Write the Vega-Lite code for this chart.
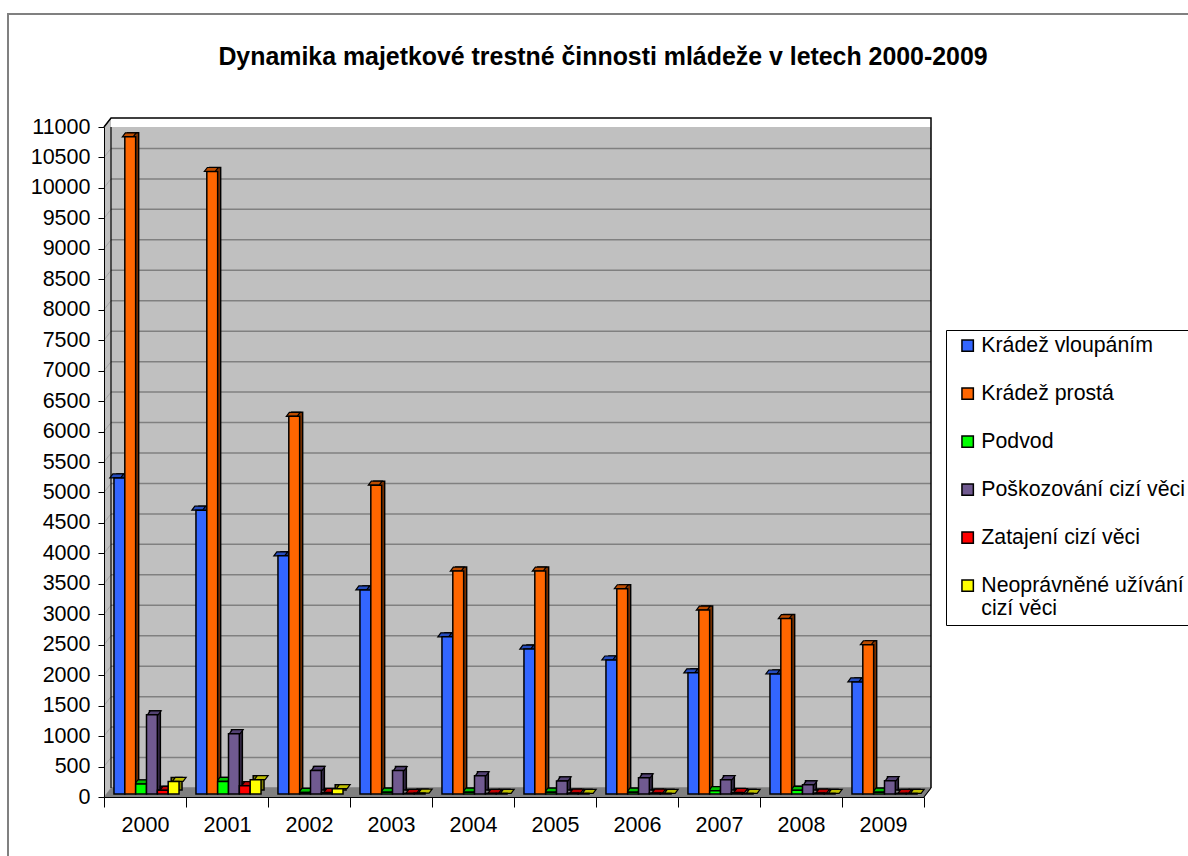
{
"$schema":"https://vega.github.io/schema/vega-lite/v6.json",
"width":1190,"height":850,
"autosize":{"type":"none"},
"padding":{"left":8,"top":14,"right":0,"bottom":0},
"background":"white",
"config":{"view":{"stroke":"#808080","strokeWidth":2,"fill":"white"},"font":"Liberation Sans"},
"title":{"text":"Dynamika majetkové trestné činnosti mládeže v letech 2000-2009","font":"Liberation Sans","fontSize":24.9,"fontWeight":"bold","color":"black","anchor":"middle","frame":"group","offset":-56},
"datasets":{
"crimes":[
{"rok":"2000","druh":"Krádež vloupáním","pocet":5190},{"rok":"2000","druh":"Krádež prostá","pocet":10790},{"rok":"2000","druh":"Podvod","pocet":164},{"rok":"2000","druh":"Poškozování cizí věci","pocet":1300},{"rok":"2000","druh":"Zatajení cizí věci","pocet":60},{"rok":"2000","druh":"Neoprávněné užívání cizí věci","pocet":207},
{"rok":"2001","druh":"Krádež vloupáním","pocet":4660},{"rok":"2001","druh":"Krádež prostá","pocet":10220},{"rok":"2001","druh":"Podvod","pocet":207},{"rok":"2001","druh":"Poškozování cizí věci","pocet":990},{"rok":"2001","druh":"Zatajení cizí věci","pocet":136},{"rok":"2001","druh":"Neoprávněné užívání cizí věci","pocet":235},
{"rok":"2002","druh":"Krádež vloupáním","pocet":3910},{"rok":"2002","druh":"Krádež prostá","pocet":6200},{"rok":"2002","druh":"Podvod","pocet":26},{"rok":"2002","druh":"Poškozování cizí věci","pocet":387},{"rok":"2002","druh":"Zatajení cizí věci","pocet":25},{"rok":"2002","druh":"Neoprávněné užívání cizí věci","pocet":87},
{"rok":"2003","druh":"Krádež vloupáním","pocet":3350},{"rok":"2003","druh":"Krádež prostá","pocet":5070},{"rok":"2003","druh":"Podvod","pocet":30},{"rok":"2003","druh":"Poškozování cizí věci","pocet":385},{"rok":"2003","druh":"Zatajení cizí věci","pocet":10},{"rok":"2003","druh":"Neoprávněné užívání cizí věci","pocet":15},
{"rok":"2004","druh":"Krádež vloupáním","pocet":2580},{"rok":"2004","druh":"Krádež prostá","pocet":3660},{"rok":"2004","druh":"Podvod","pocet":30},{"rok":"2004","druh":"Poškozování cizí věci","pocet":300},{"rok":"2004","druh":"Zatajení cizí věci","pocet":10},{"rok":"2004","druh":"Neoprávněné užívání cizí věci","pocet":10},
{"rok":"2005","druh":"Krádež vloupáním","pocet":2380},{"rok":"2005","druh":"Krádež prostá","pocet":3660},{"rok":"2005","druh":"Podvod","pocet":30},{"rok":"2005","druh":"Poškozování cizí věci","pocet":215},{"rok":"2005","druh":"Zatajení cizí věci","pocet":15},{"rok":"2005","druh":"Neoprávněné užívání cizí věci","pocet":10},
{"rok":"2006","druh":"Krádež vloupáním","pocet":2200},{"rok":"2006","druh":"Krádež prostá","pocet":3370},{"rok":"2006","druh":"Podvod","pocet":30},{"rok":"2006","druh":"Poškozování cizí věci","pocet":265},{"rok":"2006","druh":"Zatajení cizí věci","pocet":15},{"rok":"2006","druh":"Neoprávněné užívání cizí věci","pocet":10},
{"rok":"2007","druh":"Krádež vloupáním","pocet":1990},{"rok":"2007","druh":"Krádež prostá","pocet":3020},{"rok":"2007","druh":"Podvod","pocet":54},{"rok":"2007","druh":"Poškozování cizí věci","pocet":235},{"rok":"2007","druh":"Zatajení cizí věci","pocet":25},{"rok":"2007","druh":"Neoprávněné užívání cizí věci","pocet":10},
{"rok":"2008","druh":"Krádež vloupáním","pocet":1970},{"rok":"2008","druh":"Krádež prostá","pocet":2880},{"rok":"2008","druh":"Podvod","pocet":60},{"rok":"2008","druh":"Poškozování cizí věci","pocet":150},{"rok":"2008","druh":"Zatajení cizí věci","pocet":15},{"rok":"2008","druh":"Neoprávněné užívání cizí věci","pocet":10},
{"rok":"2009","druh":"Krádež vloupáním","pocet":1840},{"rok":"2009","druh":"Krádež prostá","pocet":2450},{"rok":"2009","druh":"Podvod","pocet":30},{"rok":"2009","druh":"Poškozování cizí věci","pocet":218},{"rok":"2009","druh":"Zatajení cizí věci","pocet":10},{"rok":"2009","druh":"Neoprávněné užívání cizí věci","pocet":10}
],
"years":[{"rok":"2000"},{"rok":"2001"},{"rok":"2002"},{"rok":"2003"},{"rok":"2004"},{"rok":"2005"},{"rok":"2006"},{"rok":"2007"},{"rok":"2008"},{"rok":"2009"}],
"levels":[{"h":0},{"h":500},{"h":1000},{"h":1500},{"h":2000},{"h":2500},{"h":3000},{"h":3500},{"h":4000},{"h":4500},{"h":5000},{"h":5500},{"h":6000},{"h":6500},{"h":7000},{"h":7500},{"h":8000},{"h":8500},{"h":9000},{"h":9500},{"h":10000},{"h":10500},{"h":11000}]
},
"resolve":{"scale":{"color":"independent","xOffset":"independent"}},
"layer":[
{"data":{"name":"years"},"mark":{"type":"rect","color":"#C0C0C0","xOffset":7,"yOffset":-9},
 "encoding":{
  "x":{"field":"rok","type":"nominal","title":null,"scale":{"range":[96,916],"paddingInner":0,"paddingOuter":0},"axis":{"orient":"bottom","offset":-67,"labelAngle":0,"tickBand":"extent","tickSize":10,"tickColor":"black","domainColor":"black","labelFontSize":21.5,"labelColor":"black","labelPadding":7,"labelFont":"Liberation Sans","zindex":1}},
  "y":{"datum":0,"type":"quantitative","title":null,"scale":{"domain":[0,11000],"range":[783,113],"nice":false},"axis":{"title":null,"orient":"left","offset":-96,"values":[0,500,1000,1500,2000,2500,3000,3500,4000,4500,5000,5500,6000,6500,7000,7500,8000,8500,9000,9500,10000,10500,11000],"format":"d","grid":false,"tickSize":6,"tickColor":"black","domainColor":"black","labelFontSize":21.5,"labelColor":"black","labelPadding":8,"labelOverlap":false,"labelFont":"Liberation Sans","labelBound":false,"zindex":1}},
  "y2":{"datum":11000}}},
{"data":{"name":"levels"},"transform":[{"filter":"datum.h<11000"}],"mark":{"type":"point","filled":true,"opacity":1,"size":4,"color":"#C0C0C0","shape":"M0,0 L7,-9 L7,-39.45 L0,-30.45 Z"},
 "encoding":{"x":{"datum":"2000","bandPosition":0},"y":{"field":"h","type":"quantitative","title":null,"axis":{"title":null,"orient":"left","offset":-96,"values":[0,500,1000,1500,2000,2500,3000,3500,4000,4500,5000,5500,6000,6500,7000,7500,8000,8500,9000,9500,10000,10500,11000],"format":"d","grid":false,"tickSize":6,"tickColor":"black","domainColor":"black","labelFontSize":21.5,"labelColor":"black","labelPadding":8,"labelOverlap":false,"labelFont":"Liberation Sans","labelBound":false,"zindex":1}}}},
{"data":{"name":"levels"},"mark":{"type":"point","filled":false,"opacity":1,"size":4,"stroke":"#A0A0A0","strokeWidth":1,"shape":"M0,0 L7,-9"},
 "encoding":{"x":{"datum":"2000","bandPosition":0},"y":{"field":"h","type":"quantitative","title":null,"axis":{"title":null,"orient":"left","offset":-96,"values":[0,500,1000,1500,2000,2500,3000,3500,4000,4500,5000,5500,6000,6500,7000,7500,8000,8500,9000,9500,10000,10500,11000],"format":"d","grid":false,"tickSize":6,"tickColor":"black","domainColor":"black","labelFontSize":21.5,"labelColor":"black","labelPadding":8,"labelOverlap":false,"labelFont":"Liberation Sans","labelBound":false,"zindex":1}}}},
{"data":{"name":"levels"},"transform":[{"filter":"datum.h<11000"}],"mark":{"type":"point","filled":false,"opacity":1,"size":4,"stroke":"#808080","strokeWidth":1.5,"shape":"M7,-9 L827,-9"},
 "encoding":{"x":{"datum":"2000","bandPosition":0},"y":{"field":"h","type":"quantitative","title":null,"axis":{"title":null,"orient":"left","offset":-96,"values":[0,500,1000,1500,2000,2500,3000,3500,4000,4500,5000,5500,6000,6500,7000,7500,8000,8500,9000,9500,10000,10500,11000],"format":"d","grid":false,"tickSize":6,"tickColor":"black","domainColor":"black","labelFontSize":21.5,"labelColor":"black","labelPadding":8,"labelOverlap":false,"labelFont":"Liberation Sans","labelBound":false,"zindex":1}}}},
{"data":{"name":"levels"},"transform":[{"filter":"datum.h==0"}],"mark":{"type":"point","filled":true,"opacity":1,"size":4,"color":"#808080","shape":"M0,0 L820,0 L827,-9 L7,-9 Z"},
 "encoding":{"x":{"datum":"2000","bandPosition":0},"y":{"field":"h","type":"quantitative","title":null,"axis":{"title":null,"orient":"left","offset":-96,"values":[0,500,1000,1500,2000,2500,3000,3500,4000,4500,5000,5500,6000,6500,7000,7500,8000,8500,9000,9500,10000,10500,11000],"format":"d","grid":false,"tickSize":6,"tickColor":"black","domainColor":"black","labelFontSize":21.5,"labelColor":"black","labelPadding":8,"labelOverlap":false,"labelFont":"Liberation Sans","labelBound":false,"zindex":1}}}},
{"data":{"name":"levels"},"transform":[{"filter":"datum.h==0"}],"mark":{"type":"point","filled":false,"opacity":1,"size":4,"stroke":"black","strokeWidth":1.2,"shape":"M820,0 L827,-9 M7,-9 L7,-670"},
 "encoding":{"x":{"datum":"2000","bandPosition":0},"y":{"field":"h","type":"quantitative","title":null,"axis":{"title":null,"orient":"left","offset":-96,"values":[0,500,1000,1500,2000,2500,3000,3500,4000,4500,5000,5500,6000,6500,7000,7500,8000,8500,9000,9500,10000,10500,11000],"format":"d","grid":false,"tickSize":6,"tickColor":"black","domainColor":"black","labelFontSize":21.5,"labelColor":"black","labelPadding":8,"labelOverlap":false,"labelFont":"Liberation Sans","labelBound":false,"zindex":1}}}},
{"data":{"name":"levels"},"transform":[{"filter":"datum.h==11000"}],"mark":{"type":"point","filled":false,"opacity":1,"size":4,"stroke":"black","strokeWidth":1.5,"shape":"M0,0 L7,-9 L827,-9 L827,661"},
 "encoding":{"x":{"datum":"2000","bandPosition":0},"y":{"field":"h","type":"quantitative","title":null,"axis":{"title":null,"orient":"left","offset":-96,"values":[0,500,1000,1500,2000,2500,3000,3500,4000,4500,5000,5500,6000,6500,7000,7500,8000,8500,9000,9500,10000,10500,11000],"format":"d","grid":false,"tickSize":6,"tickColor":"black","domainColor":"black","labelFontSize":21.5,"labelColor":"black","labelPadding":8,"labelOverlap":false,"labelFont":"Liberation Sans","labelBound":false,"zindex":1}}}},
{"data":{"name":"crimes"},"mark":{"type":"bar","stroke":"black","strokeWidth":1.5,"yOffset":-7},
 "encoding":{"x":{"field":"rok","type":"nominal"},"xOffset":{"field":"druh","type":"nominal","sort":["Krádež vloupáním","Krádež prostá","Podvod","Poškozování cizí věci","Zatajení cizí věci","Neoprávněné užívání cizí věci"],"scale":{"range":[4.5,86.5],"paddingInner":0,"paddingOuter":0.78}},"y":{"field":"pocet","type":"quantitative","title":null,"axis":{"title":null,"orient":"left","offset":-96,"values":[0,500,1000,1500,2000,2500,3000,3500,4000,4500,5000,5500,6000,6500,7000,7500,8000,8500,9000,9500,10000,10500,11000],"format":"d","grid":false,"tickSize":6,"tickColor":"black","domainColor":"black","labelFontSize":21.5,"labelColor":"black","labelPadding":8,"labelOverlap":false,"labelFont":"Liberation Sans","labelBound":false,"zindex":1}},
  "color":{"field":"druh","type":"nominal","legend":null,"sort":["Krádež vloupáním","Krádež prostá","Podvod","Poškozování cizí věci","Zatajení cizí věci","Neoprávněné užívání cizí věci"],"scale":{"range":["#1A3380","#803300","#008000","#372B48","#800000","#808000"]}}}},
{"data":{"name":"crimes"},"mark":{"type":"point","filled":true,"opacity":1,"size":4,"stroke":"black","strokeWidth":1.2,"yOffset":-3,"shape":"M-5.4,0 L5.4,0 L8.4,-4 L-2.4,-4 Z"},
 "encoding":{"x":{"field":"rok","type":"nominal"},"xOffset":{"field":"druh","type":"nominal","sort":["Krádež vloupáním","Krádež prostá","Podvod","Poškozování cizí věci","Zatajení cizí věci","Neoprávněné užívání cizí věci"],"scale":{"range":[1.5,83.5],"paddingInner":0,"paddingOuter":0.78}},"y":{"field":"pocet","type":"quantitative","title":null,"axis":{"title":null,"orient":"left","offset":-96,"values":[0,500,1000,1500,2000,2500,3000,3500,4000,4500,5000,5500,6000,6500,7000,7500,8000,8500,9000,9500,10000,10500,11000],"format":"d","grid":false,"tickSize":6,"tickColor":"black","domainColor":"black","labelFontSize":21.5,"labelColor":"black","labelPadding":8,"labelOverlap":false,"labelFont":"Liberation Sans","labelBound":false,"zindex":1}},
  "color":{"field":"druh","type":"nominal","legend":null,"sort":["Krádež vloupáním","Krádež prostá","Podvod","Poškozování cizí věci","Zatajení cizí věci","Neoprávněné užívání cizí věci"],"scale":{"range":["#264DBF","#BF4D00","#00BF00","#534273","#BF0000","#BFBF00"]}}}},
{"data":{"name":"crimes"},"mark":{"type":"bar","stroke":"black","strokeWidth":1.5,"yOffset":-3},
 "encoding":{"x":{"field":"rok","type":"nominal"},"xOffset":{"field":"druh","type":"nominal","sort":["Krádež vloupáním","Krádež prostá","Podvod","Poškozování cizí věci","Zatajení cizí věci","Neoprávněné užívání cizí věci"],"scale":{"range":[1.5,83.5],"paddingInner":0,"paddingOuter":0.78}},"y":{"field":"pocet","type":"quantitative","title":null,"axis":{"title":null,"orient":"left","offset":-96,"values":[0,500,1000,1500,2000,2500,3000,3500,4000,4500,5000,5500,6000,6500,7000,7500,8000,8500,9000,9500,10000,10500,11000],"format":"d","grid":false,"tickSize":6,"tickColor":"black","domainColor":"black","labelFontSize":21.5,"labelColor":"black","labelPadding":8,"labelOverlap":false,"labelFont":"Liberation Sans","labelBound":false,"zindex":1}},
  "color":{"field":"druh","type":"nominal","title":null,"sort":["Krádež vloupáním","Krádež prostá","Podvod","Poškozování cizí věci","Zatajení cizí věci","Neoprávněné užívání cizí věci"],"scale":{"range":["#3366FF","#FF6600","#00FF00","#705A90","#FF0000","#FFFF00"]},
   "legend":{"orient":"none","legendX":938,"legendY":316,"fillColor":"white","strokeColor":"black","padding":5,"symbolType":"square","symbolSize":130,"symbolStrokeColor":"black","symbolStrokeWidth":1.5,"symbolOffset":6,"labelFontSize":21.3,"labelColor":"black","labelFont":"Liberation Sans","labelLimit":400,"rowPadding":26,"labelOffset":3,"gridAlign":"none","labelExpr":"datum.label=='Neoprávněné užívání cizí věci'?['Neoprávněné užívání','cizí věci']:datum.label"}}}}
]
}
